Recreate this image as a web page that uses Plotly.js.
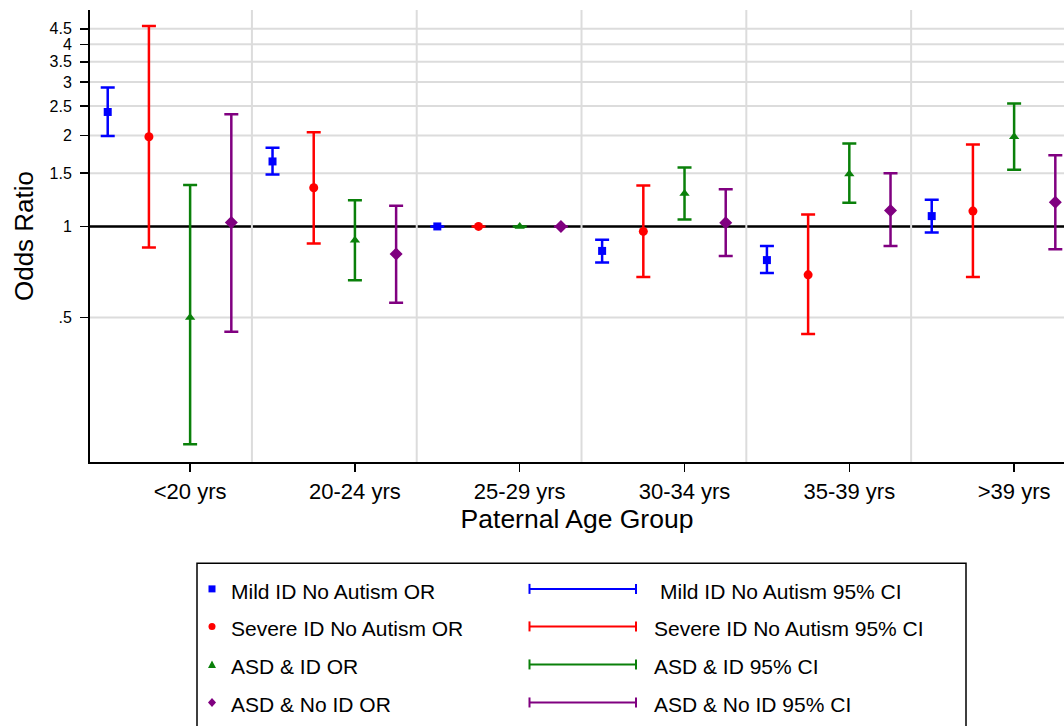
<!DOCTYPE html>
<html>
<head>
<meta charset="utf-8">
<script src="https://cdn.plot.ly/plotly-3.0.1.min.js"></script>
<style>html,body{margin:0;padding:0;overflow:hidden;background:#fff}</style>
</head>
<body>
<div id="chart" style="width:1064px;height:726px"></div>
<script>
// ---- data ----
const groups = ['<20 yrs', '20-24 yrs', '25-29 yrs', '30-34 yrs', '35-39 yrs', '>39 yrs'];

const mildOR = [2.39, 1.64, 1, 0.83, 0.774, 1.082];
const mildLo = [1.99, 1.486, 1, 0.760, 0.702, 0.955];
const mildHi = [2.88, 1.82, 1, 0.903, 0.861, 1.225];

const severeOR = [1.98, 1.342, 1, 0.963, 0.692, 1.124];
const severeLo = [0.852, 0.879, 1, 0.681, 0.441, 0.681];
const severeHi = [4.60, 2.05, 1, 1.366, 1.096, 1.867];

const asdIdOR = [0.50, 0.90, 1, 1.286, 1.49, 1.98];
const asdIdLo = [0.1905, 0.664, 1, 1.055, 1.197, 1.539];
const asdIdHi = [1.37, 1.22, 1, 1.567, 1.88, 2.55];

const asdNoIdOR = [1.03, 0.81, 1, 1.028, 1.13, 1.203];
const asdNoIdLo = [0.449, 0.559, 1, 0.799, 0.861, 0.841];
const asdNoIdHi = [2.35, 1.17, 1, 1.326, 1.50, 1.718];

const orLabels = ['Mild ID No Autism OR', 'Severe ID No Autism OR', 'ASD & ID OR', 'ASD & No ID OR'];
const ciLabels = ['Mild ID No Autism 95% CI', 'Severe ID No Autism 95% CI', 'ASD & ID 95% CI', 'ASD & No ID 95% CI'];

const yTickVals = [0.5, 1, 1.5, 2, 2.5, 3, 3.5, 4, 4.5];
const yTickText = ['.5', '1', '1.5', '2', '2.5', '3', '3.5', '4', '4.5'];

// ---- styling ----
const colors = ['#0000ff', '#ff0000', '#0a800a', '#800080'];
const symbols = ['square', 'circle', 'triangle-up', 'diamond'];
const msizes = [8, 9, 9, 10];

const seriesOR = [mildOR, severeOR, asdIdOR, asdNoIdOR];
const seriesLo = [mildLo, severeLo, asdIdLo, asdNoIdLo];
const seriesHi = [mildHi, severeHi, asdIdHi, asdNoIdHi];

const traces = seriesOR.map((vals, s) => ({
  type: 'scatter',
  mode: 'markers',
  name: orLabels[s],
  x: groups.map((g, i) => 4 * i + s + 1),
  y: vals,
  marker: {symbol: symbols[s], size: msizes[s], color: colors[s]},
  error_y: {
    type: 'data', symmetric: false,
    array: vals.map((v, i) => seriesHi[s][i] - v),
    arrayminus: vals.map((v, i) => v - seriesLo[s][i]),
    color: colors[s], thickness: 2.5, width: 7
  },
  showlegend: false,
  hoverinfo: 'x+y'
}));

// pixel -> paper helpers for the legend box drawn under the plot
const L = 90, T = 10, PW = 974, PH = 451.7;
const px = x => (x - L) / PW;
const py = y => (T + PH - y) / PH;

const shapes = [];
// horizontal grid lines
yTickVals.forEach(v => {
  shapes.push({type: 'line', layer: 'below', xref: 'paper', yref: 'y', x0: 0, x1: 1,
    y0: v, y1: v, line: {color: '#dcdcdc', width: 2}});
});
// reference line at OR = 1
shapes.push({type: 'line', layer: 'below', xref: 'paper', yref: 'y', x0: 0, x1: 1,
  y0: 1, y1: 1, line: {color: '#000', width: 2.5}});
// vertical separators between groups
groups.forEach((g, i) => {
  const xv = 4 * i + 4.5;
  shapes.push({type: 'line', layer: 'below', xref: 'x', yref: 'paper', x0: xv, x1: xv,
    y0: 0, y1: 1, line: {color: '#dcdcdc', width: 2}});
});

// legend box
shapes.push({type: 'rect', xref: 'paper', yref: 'paper', x0: px(197), x1: px(966),
  y0: py(770), y1: py(563), line: {color: '#000', width: 1.5}, fillcolor: 'rgba(0,0,0,0)'});

const rowY = [588.5, 626, 664, 702];
const annotations = [];
rowY.forEach((ry, s) => {
  const cx = 212, r = 3.5;
  if (s === 0) {
    shapes.push({type: 'rect', xref: 'paper', yref: 'paper', x0: px(cx - r), x1: px(cx + r),
      y0: py(ry + r), y1: py(ry - r), fillcolor: colors[s], line: {width: 0}});
  } else if (s === 1) {
    shapes.push({type: 'circle', xref: 'paper', yref: 'paper', x0: px(cx - r), x1: px(cx + r),
      y0: py(ry + r), y1: py(ry - r), fillcolor: colors[s], line: {width: 0}});
  } else if (s === 2) {
    shapes.push({type: 'path', xref: 'paper', yref: 'paper',
      path: `M ${px(cx - 4)} ${py(ry + 3.5)} L ${px(cx + 4)} ${py(ry + 3.5)} L ${px(cx)} ${py(ry - 4)} Z`,
      fillcolor: colors[s], line: {width: 0}});
  } else {
    shapes.push({type: 'path', xref: 'paper', yref: 'paper',
      path: `M ${px(cx - 4)} ${py(ry)} L ${px(cx)} ${py(ry - 4.5)} L ${px(cx + 4)} ${py(ry)} L ${px(cx)} ${py(ry + 4.5)} Z`,
      fillcolor: colors[s], line: {width: 0}});
  }
  // CI symbol
  shapes.push({type: 'line', xref: 'paper', yref: 'paper', x0: px(529.5), x1: px(636),
    y0: py(ry), y1: py(ry), line: {color: colors[s], width: 2}});
  [529.5, 636].forEach(ex => shapes.push({type: 'line', xref: 'paper', yref: 'paper',
    x0: px(ex), x1: px(ex), y0: py(ry - 5), y1: py(ry + 5), line: {color: colors[s], width: 2}}));

  annotations.push({xref: 'paper', yref: 'paper', x: px(229), y: py(ry + 2.5),
    xanchor: 'left', yanchor: 'middle', showarrow: false, text: orLabels[s],
    font: {size: 21, color: '#000'}});
  annotations.push({xref: 'paper', yref: 'paper', x: px(s === 0 ? 658 : 652), y: py(ry + 2.5),
    xanchor: 'left', yanchor: 'middle', showarrow: false, text: ciLabels[s],
    font: {size: 21, color: '#000'}});
});

const layout = {
  width: 1064, height: 726,
  margin: {l: L, r: 0, t: T, b: 726 - T - PH, pad: 0},
  paper_bgcolor: '#fff', plot_bgcolor: '#fff',
  font: {family: '"Liberation Sans", Arial, sans-serif', color: '#000'},
  showlegend: false,
  xaxis: {
    range: [0.57, 0.57 + PW / 41.2],
    tickvals: groups.map((g, i) => 4 * i + 3), ticktext: groups,
    ticks: 'outside', ticklen: 8, tickwidth: 1.5, tickcolor: '#000',
    showline: true, linecolor: '#000', linewidth: 2,
    showgrid: false, zeroline: false,
    tickfont: {size: 22}, ticklabelstandoff: 1,
    title: {text: 'Paternal Age Group', font: {size: 26.5}, standoff: 6}
  },
  yaxis: {
    type: 'log', range: [-0.7787, 0.7155],
    tickvals: yTickVals, ticktext: yTickText,
    ticks: 'outside', ticklen: 8, tickwidth: 1.5, tickcolor: '#000',
    showline: true, linecolor: '#000', linewidth: 2,
    showgrid: false, zeroline: false,
    tickfont: {size: 16}, ticklabelstandoff: 5,
    title: {text: 'Odds Ratio', font: {size: 26}, standoff: 8}
  },
  shapes: shapes,
  annotations: annotations
};

Plotly.newPlot('chart', traces, layout, {displayModeBar: false, staticPlot: true});
</script>
</body>
</html>
